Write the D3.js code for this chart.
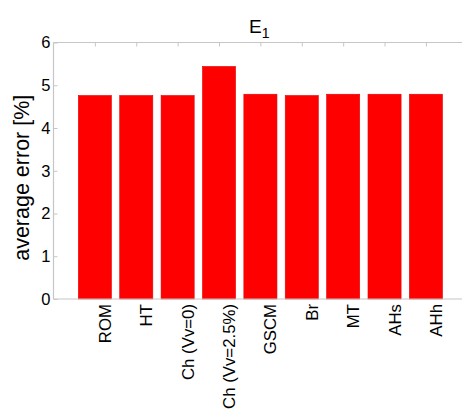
<!DOCTYPE html>
<html>
<head>
<meta charset="utf-8">
<script src="https://cdn.jsdelivr.net/npm/d3@7"></script>
<style>
  html, body { margin: 0; padding: 0; background: #fff; overflow: hidden; }
  svg { display: block; font-family: Arial, "Liberation Sans", sans-serif; }
</style>
</head>
<body>
<svg id="chart" width="462" height="412"></svg>
<script>
// Methods compared and their average error (%)
const categories = ["ROM", "HT", "Ch (Vv=0)", "Ch (Vv=2.5%)", "GSCM", "Br", "MT", "AHs", "AHh"];
const errorValues = [4.76, 4.76, 4.76, 5.44, 4.79, 4.76, 4.79, 4.79, 4.79];
const yTicks = [0, 1, 2, 3, 4, 5, 6];

const svg = d3.select("#chart");
const axisColor = "#c6c6c6";

// Axes box: x runs 0..10 so bars sit at 1..9
const x = d3.scaleLinear().domain([0, 10]).range([53.5, 467.3]);
const y = d3.scaleLinear().domain([0, 6]).range([299, 42.5]);
const barWidth = 0.8;

// Bars
svg.append("g").selectAll("rect")
  .data(errorValues)
  .join("rect")
  .attr("x", (d, i) => x(i + 1 - barWidth / 2))
  .attr("width", x(barWidth) - x(0))
  .attr("y", d => y(d))
  .attr("height", d => y(0) - y(d))
  .attr("fill", "#ff0000")
  .attr("stroke", "#e60000")
  .attr("stroke-width", 0.6);

// Box outline
const box = svg.append("g").attr("fill", "none").attr("stroke", axisColor).attr("stroke-width", 1.2);
box.append("line").attr("x1", x(0)).attr("x2", x(10)).attr("y1", y(6)).attr("y2", y(6));
box.append("line").attr("x1", x(0)).attr("x2", x(10)).attr("y1", y(0)).attr("y2", y(0));
box.append("line").attr("x1", x(0)).attr("x2", x(0)).attr("y1", y(0)).attr("y2", y(6));
box.append("line").attr("x1", x(10)).attr("x2", x(10)).attr("y1", y(0)).attr("y2", y(6));

// Left y axis: inward ticks with labels
const yAxis = d3.axisRight(y).tickValues(yTicks).tickSize(4).tickFormat("");
const gy = svg.append("g").attr("transform", `translate(${x(0)},0)`).call(yAxis);
gy.select(".domain").remove();
gy.selectAll(".tick line").attr("stroke", axisColor);

// Right y axis ticks (inward)
const gyr = svg.append("g").attr("transform", `translate(${x(10)},0)`)
  .call(d3.axisLeft(y).tickValues(yTicks).tickSize(4).tickFormat(""));
gyr.select(".domain").remove();
gyr.selectAll(".tick line").attr("stroke", axisColor);

svg.append("g").selectAll("text")
  .data(yTicks)
  .join("text")
  .attr("x", x(0) - 3)
  .attr("y", d => y(d))
  .attr("dy", "0.36em")
  .attr("text-anchor", "end")
  .attr("font-size", 16.5)
  .attr("fill", "#000")
  .text(d => d);

// Top x ticks (inward)
const xTickVals = categories.map((c, i) => i + 1);
const gxt = svg.append("g").attr("transform", `translate(0,${y(6)})`)
  .call(d3.axisBottom(x).tickValues(xTickVals).tickSize(4).tickFormat(""));
gxt.select(".domain").remove();
gxt.selectAll(".tick line").attr("stroke", axisColor);

// Rotated category labels
svg.append("g").selectAll("text")
  .data(categories)
  .join("text")
  .attr("transform", (d, i) => `translate(${x(i + 1) + 16},${y(0) + 5}) rotate(-90)`)
  .attr("text-anchor", "end")
  .attr("font-size", 16.8)
  .attr("fill", "#000")
  .text(d => d);

// Y axis title
svg.append("text")
  .attr("transform", `translate(29,${(y(0) + y(6)) / 2 + 7}) rotate(-90)`)
  .attr("text-anchor", "middle")
  .attr("font-size", 21.5)
  .attr("fill", "#000")
  .text("average error [%]");

// Chart title with subscript
const title = svg.append("text")
  .attr("x", 249)
  .attr("y", 33)
  .attr("font-size", 19)
  .attr("fill", "#000");
title.append("tspan").text("E");
title.append("tspan").attr("dy", 5).attr("font-size", 14).text("1");
</script>
</body>
</html>
